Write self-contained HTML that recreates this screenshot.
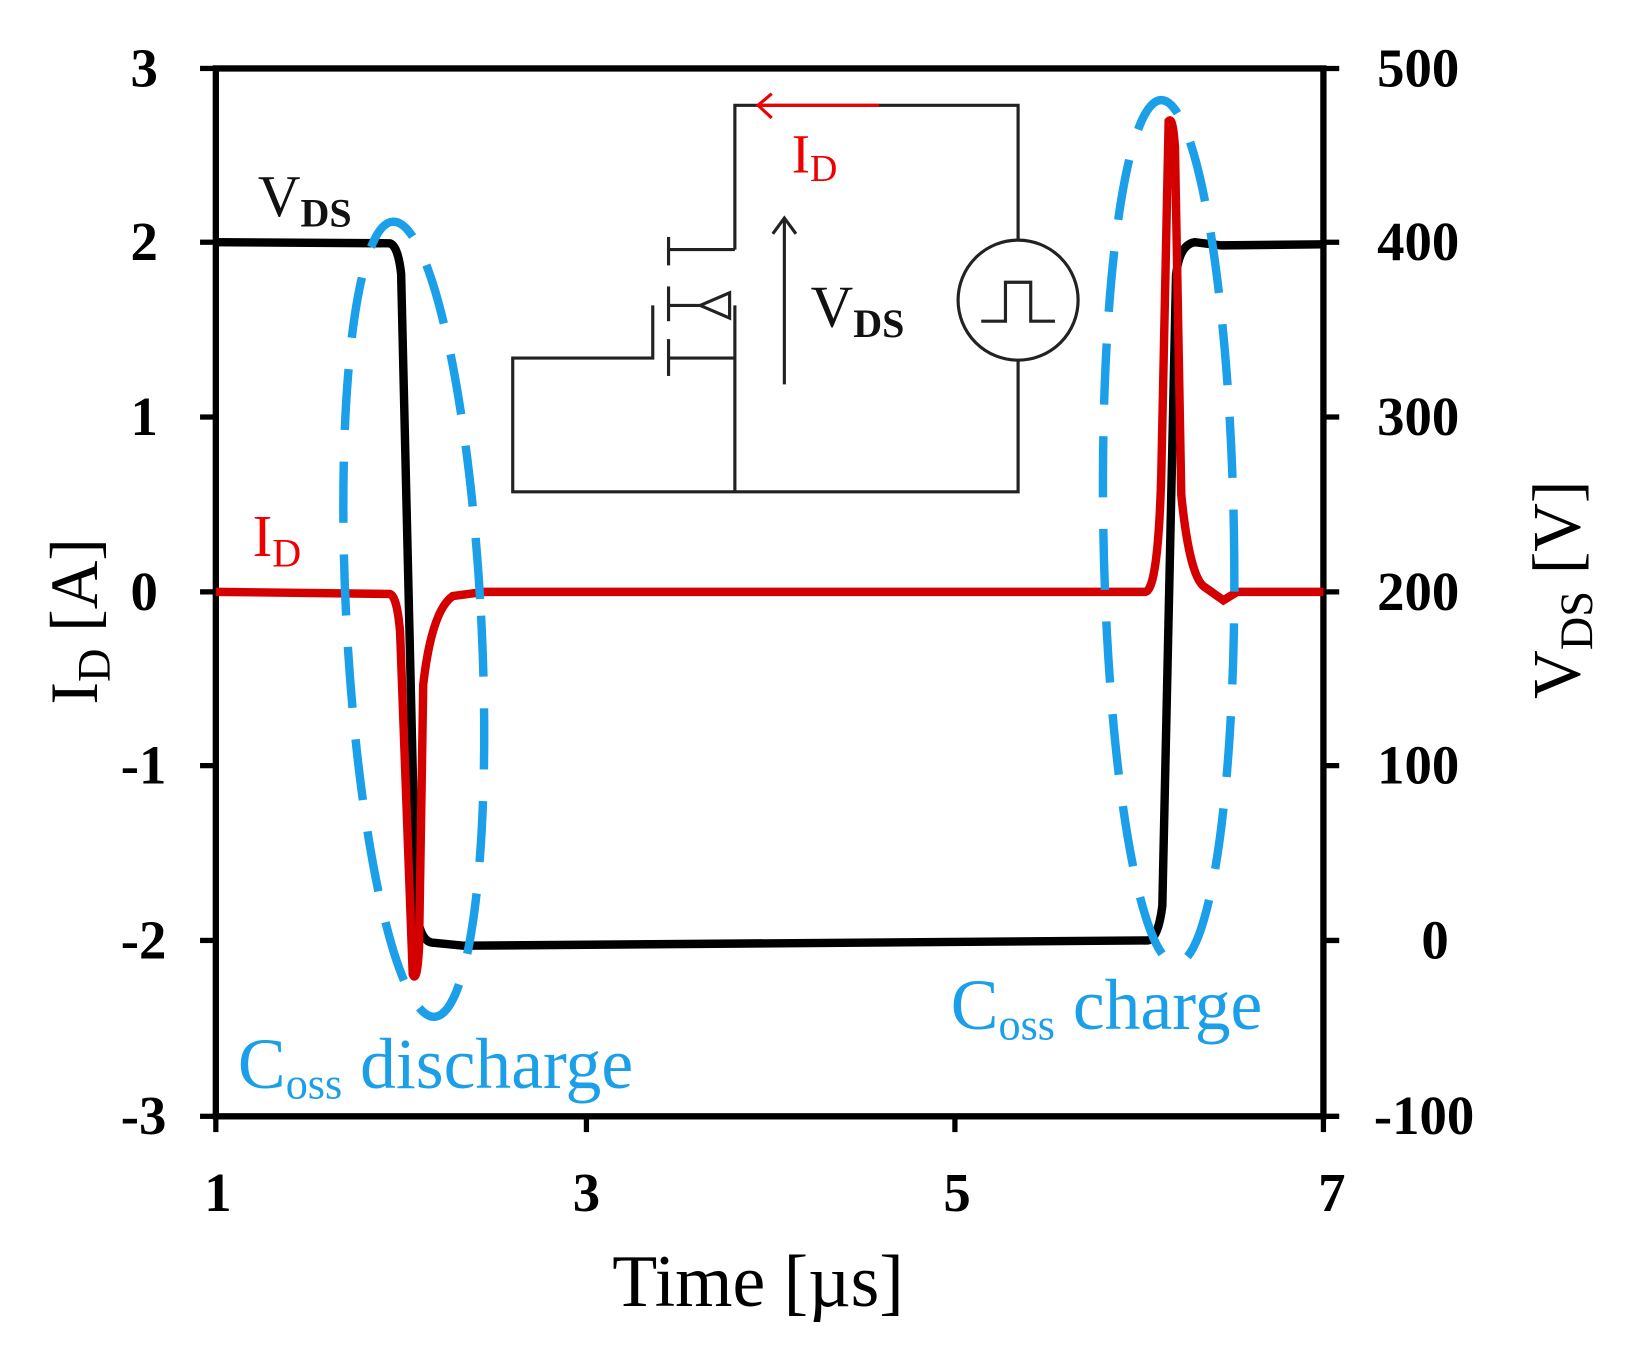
<!DOCTYPE html>
<html><head><meta charset="utf-8"><style>
html,body{margin:0;padding:0;background:#fff;}
svg{display:block;}
text{font-family:"Liberation Serif",serif;}
</style></head><body>
<svg width="1634" height="1348" viewBox="0 0 1552 1280" preserveAspectRatio="none" xmlns="http://www.w3.org/2000/svg">
<rect width="1552" height="1280" fill="#fff"/>
<rect x="205" y="65" width="1052" height="995" fill="none" stroke="#000" stroke-width="6"/>
<g stroke="#000" stroke-width="5">
<line x1="190" y1="65" x2="205" y2="65"/><line x1="190" y1="230" x2="205" y2="230"/><line x1="190" y1="396" x2="205" y2="396"/><line x1="190" y1="562" x2="205" y2="562"/><line x1="190" y1="727" x2="205" y2="727"/><line x1="190" y1="893" x2="205" y2="893"/><line x1="190" y1="1060" x2="205" y2="1060"/>
<line x1="1257" y1="65" x2="1272" y2="65"/><line x1="1257" y1="230" x2="1272" y2="230"/><line x1="1257" y1="396" x2="1272" y2="396"/><line x1="1257" y1="562" x2="1272" y2="562"/><line x1="1257" y1="727" x2="1272" y2="727"/><line x1="1257" y1="893" x2="1272" y2="893"/><line x1="1257" y1="1060" x2="1272" y2="1060"/>
<line x1="205" y1="1060" x2="205" y2="1075"/><line x1="557" y1="1060" x2="557" y2="1075"/><line x1="907" y1="1060" x2="907" y2="1075"/><line x1="1257" y1="1060" x2="1257" y2="1075"/>
</g>
<g font-size="52" font-weight="bold" text-anchor="end">
<text x="150" y="82">3</text><text x="150" y="247">2</text><text x="150" y="413">1</text><text x="150" y="579">0</text><text x="158" y="744">-1</text><text x="158" y="910">-2</text><text x="158" y="1077">-3</text>
</g>
<g font-size="52" font-weight="bold" text-anchor="start">
<text x="1308" y="82">500</text><text x="1308" y="247">400</text><text x="1308" y="413">300</text><text x="1308" y="579">200</text><text x="1308" y="744">100</text><text x="1350" y="910">0</text><text x="1305" y="1077">-100</text>
</g>
<g font-size="52" font-weight="bold" text-anchor="middle">
<text x="207" y="1150">1</text><text x="557" y="1150">3</text><text x="909" y="1150">5</text><text x="1265" y="1150">7</text>
</g>
<text x="720" y="1240" font-size="70" text-anchor="middle">Time [µs]</text>
<text transform="translate(92,590) rotate(-90)" font-size="64" text-anchor="middle">I<tspan font-size="44" dy="12">D</tspan><tspan dy="-12"> [A]</tspan></text>
<text transform="translate(1500,560) rotate(-90)" font-size="64" text-anchor="middle">V<tspan font-size="44" dy="12">DS</tspan><tspan dy="-12"> [V]</tspan></text>
<g stroke="#222" stroke-width="3" fill="none">
<polyline points="698,237 698,100 967,100 967,228"/>
<circle cx="967" cy="285" r="57"/>
<polyline points="932,305 955,305 955,268 979,268 979,305 1002,305"/>
<polyline points="967,342 967,467 487,467 487,340 620,340 620,290"/>
<line x1="698" y1="290" x2="698" y2="467"/>
<line x1="635" y1="225" x2="635" y2="252"/><line x1="635" y1="272" x2="635" y2="305"/><line x1="635" y1="322" x2="635" y2="357"/>
<line x1="635" y1="237" x2="698" y2="237"/><line x1="635" y1="340" x2="698" y2="340"/>
<line x1="635" y1="290" x2="665" y2="290"/>
<polygon points="665,290 693,278 693,302"/>
<line x1="745" y1="365" x2="745" y2="207"/><polyline points="734,222 745,207 756,222"/>
</g>
<line x1="720" y1="100" x2="835" y2="100" stroke="#e00" stroke-width="3"/>
<polyline points="733,89 720,100 733,112" stroke="#e00" stroke-width="3" fill="none"/>
<text x="752" y="164" font-size="52" fill="#e00">I<tspan font-size="36" dy="8">D</tspan></text>
<text x="770" y="310" font-size="56" fill="#111">V<tspan font-size="38" dy="10" font-weight="bold">DS</tspan></text>
<path d="M205,230 L370,231 Q378,233 381,260 L395,860 Q398,893 410,895 L440,898 L1090,893 Q1100,892 1104,860 L1117,262 Q1120,232 1135,230 L1160,233 L1257,232" fill="none" stroke="#000" stroke-width="8"/>
<path d="M205,562 L370,564 Q377,565 380,600 L392,925 Q396,935 398,900 L402,650 Q410,580 430,566 L460,562 L1088,562 Q1100,560 1103,450 L1110,115 Q1114,110 1116,140 L1122,470 Q1130,550 1145,558 L1162,570 L1175,562 L1257,562" fill="none" stroke="#d40000" stroke-width="8"/>
<text x="245" y="205" font-size="56" fill="#111">V<tspan font-size="38" dy="10" font-weight="bold">DS</tspan></text>
<text x="240" y="528" font-size="56" fill="#e00">I<tspan font-size="38" dy="10">D</tspan></text>
<g fill="none" stroke="#1a9fe8" stroke-width="8" stroke-dasharray="58,30">
<ellipse cx="393" cy="588" rx="64" ry="378" transform="rotate(-3 393 588)"/>
<ellipse cx="1110" cy="505" rx="62" ry="410" transform="rotate(-1 1110 505)"/>
</g>
<text x="226" y="1033" font-size="68" fill="#1a9fe8">C<tspan font-size="42" dy="10">oss</tspan><tspan dy="-10"> discharge</tspan></text>
<text x="903" y="977" font-size="68" fill="#1a9fe8">C<tspan font-size="42" dy="10">oss</tspan><tspan dy="-10"> charge</tspan></text>
</svg>
</body></html>
